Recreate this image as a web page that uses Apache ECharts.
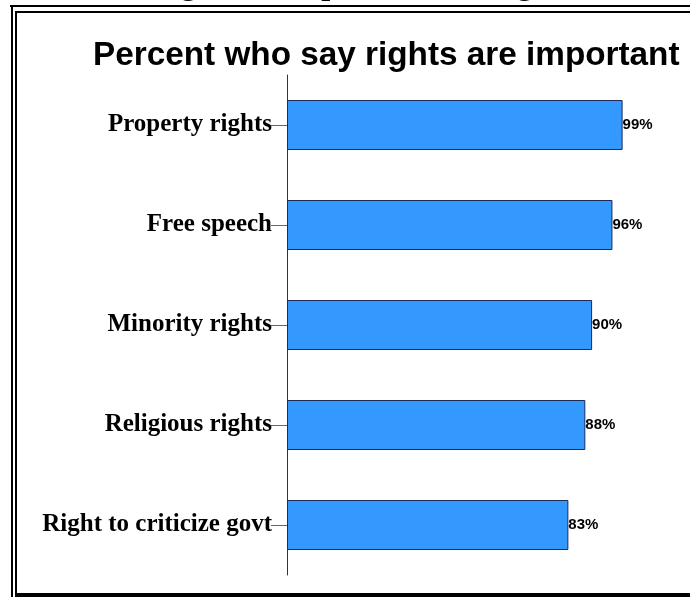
<!DOCTYPE html>
<html>
<head>
<meta charset="utf-8">
<style>
  html, body { margin: 0; padding: 0; background: #fff; }
  #chart { width: 690px; height: 597px; }
</style>
<script src="https://cdn.jsdelivr.net/npm/echarts@6/dist/echarts.min.js"></script>
</head>
<body>
<div id="chart"></div>
<script>
// Survey results: share of respondents rating each right as important
const categories = [
  'Property rights',
  'Free speech',
  'Minority rights',
  'Religious rights',
  'Right to criticize govt'
];
const percentImportant = [99, 96, 90, 88, 83];

const chartTitle = 'Percent who say rights are important';
const figureCaption = 'Figure 1. Importance of Rights';

const chart = echarts.init(document.getElementById('chart'), null, { renderer: 'canvas' });

const serif = '"Liberation Serif", "Times New Roman", serif';
const sans = '"Liberation Sans", Arial, sans-serif';

chart.setOption({
  backgroundColor: '#ffffff',
  animation: false,
  title: {
    text: chartTitle,
    left: 93,
    top: 39,
    padding: 0,
    textStyle: {
      fontFamily: sans,
      fontWeight: 'bold',
      fontSize: 33.3,
      color: '#000'
    }
  },
  grid: {
    left: 287,
    top: 75,
    width: 339,
    height: 500,
    containLabel: false
  },
  xAxis: {
    type: 'value',
    min: 0,
    max: 100,
    show: false
  },
  yAxis: {
    type: 'category',
    data: categories,
    inverse: true,
    axisLine: { show: true, lineStyle: { color: '#333', width: 1 } },
    axisTick: {
      show: true,
      alignWithLabel: true,
      length: 16,
      lineStyle: { color: '#666', width: 1 }
    },
    axisLabel: {
      margin: 15,
      fontFamily: serif,
      fontWeight: 'bold',
      fontSize: 25,
      color: '#000'
    },
    splitLine: { show: false }
  },
  series: [{
    type: 'bar',
    data: percentImportant,
    barWidth: 50,
    itemStyle: {
      color: '#3399ff',
      borderColor: '#1c2a55',
      borderWidth: 1
    },
    label: {
      show: true,
      position: 'right',
      distance: 0,
      formatter: '{c}%',
      fontFamily: sans,
      fontWeight: 'bold',
      fontSize: 15,
      color: '#000'
    }
  }],
  graphic: [
    // caption line above the frame, mostly clipped by the page top
    {
      type: 'text',
      left: 152,
      top: -30,
      z: 1,
      style: {
        text: figureCaption,
        fontFamily: serif,
        fontWeight: 'bold',
        fontSize: 32,
        fill: '#000'
      }
    },
    // double frame: outer rule
    { type: 'rect', shape: { x: 10, y: 5, width: 680, height: 2 }, style: { fill: '#000' }, z: 10 },
    { type: 'rect', shape: { x: 11, y: 5, width: 2, height: 592 }, style: { fill: '#000' }, z: 10 },
    // inner rule
    { type: 'rect', shape: { x: 15, y: 11, width: 675, height: 2 }, style: { fill: '#000' }, z: 10 },
    { type: 'rect', shape: { x: 15, y: 11, width: 2, height: 586 }, style: { fill: '#000' }, z: 10 },
    { type: 'rect', shape: { x: 15, y: 593, width: 675, height: 4 }, style: { fill: '#000' }, z: 10 },
    // white mask so the caption never shows inside the frame
    { type: 'rect', shape: { x: 13, y: 7, width: 677, height: 4 }, style: { fill: '#fff' }, z: 5 }
  ]
});
</script>
</body>
</html>
